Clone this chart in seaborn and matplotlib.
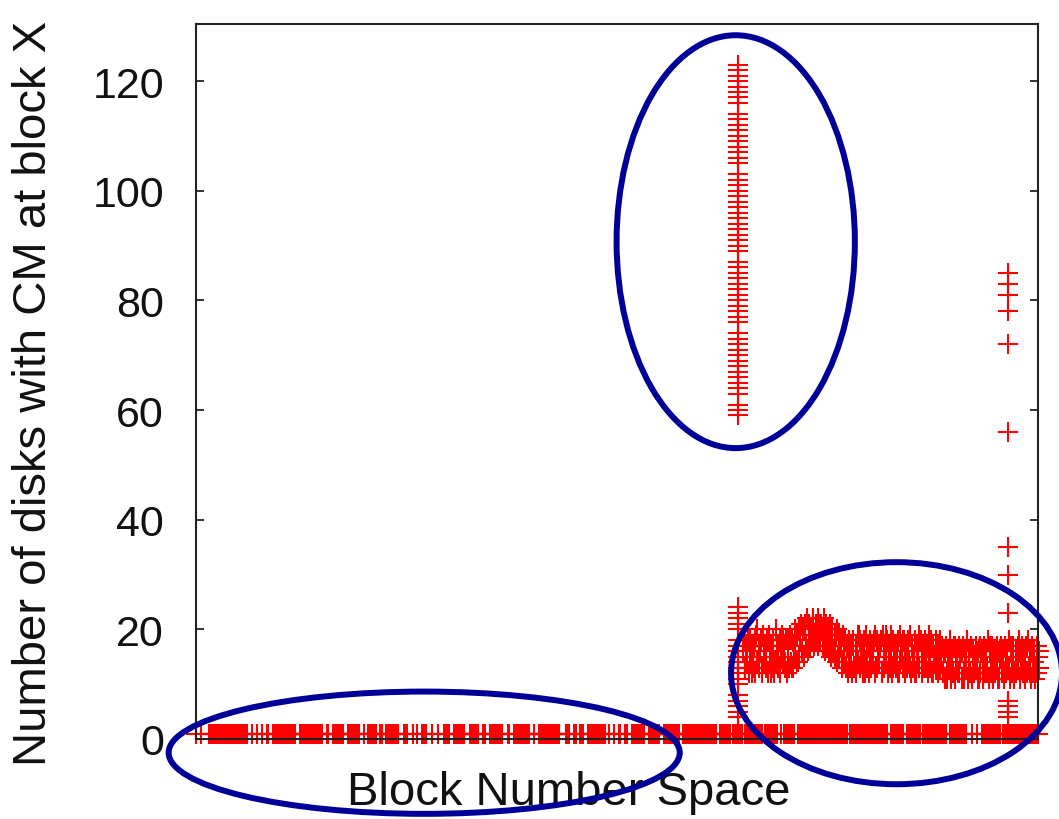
import numpy as np
import pandas as pd
import matplotlib
matplotlib.use("Agg")
import matplotlib.pyplot as plt
from matplotlib.patches import Ellipse
import seaborn as sns

# ---------------------------------------------------------------------------
# Data (block numbers on a 0..1000 scale)
# ---------------------------------------------------------------------------
# Blocks where only a single disk reports a CM: runs of sampled blocks (start, end)
zero_level = 1
zero_runs = [
    (0, 0), (6, 6), (15, 62), (67, 67), (72, 72), (78, 78), (84, 86),
    (92, 118), (124, 150), (155, 158), (163, 176), (181, 194), (199, 199),
    (204, 214), (219, 221), (226, 241), (247, 252), (258, 258), (263, 263),
    (269, 273), (280, 281), (287, 288), (294, 301), (306, 318), (325, 336),
    (341, 343), (349, 364), (370, 372), (378, 396), (401, 401), (407, 432),
    (439, 444), (449, 451), (456, 461), (466, 486), (491, 491), (496, 497),
    (502, 505), (510, 512), (518, 532), (538, 550), (556, 574), (578, 619),
    (622, 634), (638, 648), (652, 673), (676, 691), (695, 695), (698, 698),
    (700, 711), (715, 773), (777, 822), (826, 840), (844, 860), (863, 892),
    (895, 916), (922, 922), (927, 927), (933, 955), (958, 1000),
]

# Hot block shared by many disks
spike_block = 644
spike_high = [123, 122, 121, 120, 119, 118, 117, 116, 114, 113, 112, 111, 110,
              109, 108, 107, 106, 105, 103, 102, 101, 100, 99, 98, 97, 96, 95,
              94, 93, 92, 91, 90, 89, 87, 86, 85, 84, 83, 82, 81, 80, 79, 78,
              77, 76, 74, 73, 72, 71, 70, 69, 68, 67, 66, 65, 64, 63, 61, 60, 59]
spike_low = [24, 23, 22, 21, 20, 18, 17, 16, 15, 14, 13, 12, 11, 10, 8, 7, 6, 5, 4]

# Last-block column
tail_block = 964
tail_values = [85, 83, 81, 78, 72, 56, 35, 30, 23, 7, 6, 5, 4]

# Dense band of moderately shared blocks in the upper block range,
# sampled as three interleaved passes (upper, middle, lower readings)
band_start, band_end = 650, 1000
band_upper = [
    18, 17, 19, 18, 17, 18, 20, 17, 18, 19, 17, 18, 19, 17, 18, 20, 17, 18, 19, 17, 18,
    18, 19, 18, 20, 19, 20, 21, 20, 21, 22, 21, 20, 22, 21, 22, 21, 20, 22, 21, 20,
    21, 20, 19, 20, 19, 18, 19, 18, 17, 18, 17,
    18, 17, 19, 18, 17, 18, 19, 17, 18, 17, 19, 18, 17, 18, 19, 17, 18, 17, 19, 18,
    17, 18, 19, 17, 18, 17, 18, 19, 17, 18, 17, 19, 18, 17, 18, 17, 19, 18, 17, 18,
    17, 18,
    17, 16, 17, 16, 18, 16, 17, 16, 17, 16, 17, 16, 18, 16, 17, 16, 17, 16, 17, 16,
    17, 16, 18, 16, 17, 16, 17, 16, 17, 16, 17, 16, 18, 16, 17, 16, 17, 16, 17, 16,
    17, 18, 16, 17, 16, 17, 16,
]
band_middle = [
    16, 13, 18, 15, 12, 17, 19, 14, 16, 13, 17, 15, 18, 12, 16, 14, 17, 13, 15, 18, 14,
    15, 18, 13, 17, 19, 14, 18, 16, 20, 17, 19, 18, 21, 19, 20, 18, 21, 19, 20, 17,
    19, 18, 16, 19, 15, 17, 14, 18, 13, 16, 14,
    17, 13, 16, 19, 14, 15, 12, 17, 16, 14, 18, 13, 15, 17, 12, 16, 19, 14, 15, 13,
    17, 16, 12, 15, 18, 14, 16, 13, 17, 15, 12, 16, 18, 14, 15, 13, 16, 17, 12, 15,
    14, 16,
    14, 12, 16, 11, 15, 13, 17, 14, 12, 15, 16, 11, 14, 13, 17, 12, 15, 14, 11, 16,
    13, 15, 12, 17, 14, 13, 16, 11, 15, 14, 12, 16, 13, 17, 15, 12, 14, 18, 13, 16,
    15, 17, 12, 16, 14, 13, 15,
]
band_lower = [
    13, 14, 12, 14, 13, 12, 14, 13, 12, 14, 13, 12, 14, 13, 12, 14, 13, 12, 14, 13, 12,
    13, 14, 13, 15, 14, 15, 16, 15, 17, 16, 17, 18, 17, 18, 17, 18, 17, 16, 17, 16,
    15, 16, 15, 14, 15, 13, 14, 13, 12, 13, 12,
    13, 12, 14, 13, 12, 14, 13, 12, 13, 14, 12, 13, 14, 12, 13, 14, 12, 13, 12, 14,
    13, 12, 14, 13, 12, 13, 14, 12, 13, 12, 14, 13, 12, 13, 14, 12, 13, 12, 14, 13,
    12, 13,
    12, 11, 12, 13, 11, 12, 11, 13, 12, 11, 12, 13, 11, 12, 11, 12, 13, 11, 12, 11,
    12, 13, 11, 12, 11, 12, 13, 11, 12, 11, 12, 13, 11, 12, 11, 12, 13, 11, 12, 11,
    12, 13, 11, 12, 11, 12, 13,
]

# Highlight ellipses: (center block, center count, width in blocks, height in counts)
highlights = [
    (641, 90.7, 283, 75.3),
    (271, -2.5, 607, 22.3),
    (832, 12.0, 393, 40.5),
]

# ---------------------------------------------------------------------------
# Assemble points
# ---------------------------------------------------------------------------
zx = np.concatenate([np.arange(a, b + 0.01, 2.0) for a, b in zero_runs])
band_x = np.linspace(band_start, band_end, len(band_middle))
band_step = band_x[1] - band_x[0]
frames = [
    pd.DataFrame({"block": zx, "disks": zero_level}),
    pd.DataFrame({"block": spike_block, "disks": spike_high}),
    pd.DataFrame({"block": spike_block, "disks": spike_low}),
    pd.DataFrame({"block": tail_block, "disks": tail_values}),
    pd.DataFrame({"block": band_x, "disks": band_middle}),
    pd.DataFrame({"block": band_x + band_step / 3, "disks": band_upper}),
    pd.DataFrame({"block": band_x + 2 * band_step / 3, "disks": band_lower}),
]
df = pd.concat(frames, ignore_index=True)

# ---------------------------------------------------------------------------
# Plot
# ---------------------------------------------------------------------------
sns.set_style("white")
plt.rcParams["font.family"] = ["Liberation Sans", "DejaVu Sans"]

fig = plt.figure(figsize=(10.59, 8.2), dpi=100)
ax = fig.add_axes([196 / 1059, 80 / 820, 842 / 1059, 715 / 820])

sns.scatterplot(data=df, x="block", y="disks", ax=ax, marker="+", s=205,
                color="#ff0000", linewidth=1.5, clip_on=False, legend=False)

ax.set_xlim(0, 1000)
ax.set_ylim(0, 130.4)
ax.set_xticks([])
ax.set_yticks([0, 20, 40, 60, 80, 100, 120])
ax.tick_params(axis="y", left=True, right=True, direction="in", length=5.5,
               width=1.2, pad=23, labelsize=31, colors="#111111")
for sp in ax.spines.values():
    sp.set_linewidth(1.5)
    sp.set_color("#222222")
    sp.set_visible(True)

ax.set_xlabel("Block Number Space", fontsize=34, color="#111111")
ax.xaxis.set_label_coords((568.5 - 196) / 842, (740 - 771) / 715)
ax.set_ylabel("Number of disks with CM at block X", fontsize=34, color="#111111")
ax.yaxis.label.set_verticalalignment("center")
ax.yaxis.set_label_coords((34 - 196) / 842, (740 - 393) / 715)

for cx, cy, w, h in highlights:
    ax.add_patch(Ellipse((cx, cy), w, h, fill=False, edgecolor="#000099",
                         linewidth=4.3, zorder=5, clip_on=False))

fig.savefig("out.png", dpi=100, facecolor="white")
